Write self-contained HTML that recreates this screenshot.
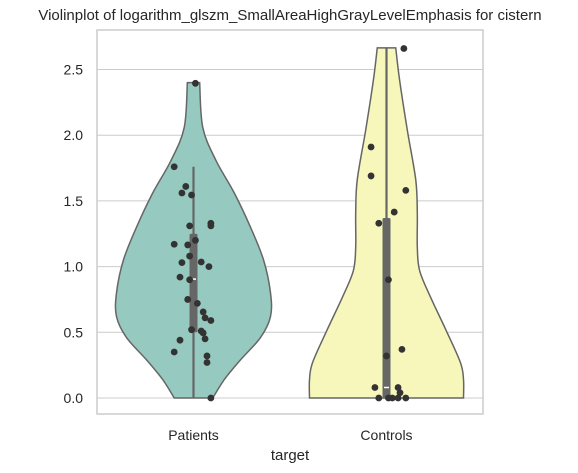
<!DOCTYPE html>
<html><head><meta charset="utf-8"><style>
body{margin:0;background:#fff;}
svg{display:block;font-family:"Liberation Sans",Arial,sans-serif;}
</style></head><body>
<svg id="chart" width="578" height="473" viewBox="0 0 578 473"></svg>
<script>
const categories = ["Patients", "Controls"];
const yTicks = [0.0, 0.5, 1.0, 1.5, 2.0, 2.5];
const yTickLabels = ["0.0", "0.5", "1.0", "1.5", "2.0", "2.5"];
// density profiles (value levels, relative half-width 0..1)
const patientsLevels = [2.40, 2.06, 1.81, 1.56, 1.30, 1.05, 0.80, 0.62, 0.46, 0.29, 0.14, 0.0];
const patientsDensity = [0.08, 0.12, 0.29, 0.53, 0.74, 0.91, 1.0, 1.0, 0.87, 0.61, 0.40, 0.25];
const controlsLevels = [2.665, 2.42, 2.04, 1.66, 1.41, 1.15, 0.97, 0.77, 0.52, 0.27, 0.14, 0.0];
const controlsDensity = [0.12, 0.17, 0.27, 0.38, 0.40, 0.40, 0.43, 0.57, 0.77, 0.96, 1.0, 1.0];
// box stats: whiskerLow, Q1, median, Q3, whiskerHigh
const patientsBox = [0.0, 0.50, 0.905, 1.25, 1.76];
const controlsBox = [0.0, 0.0, 0.08, 1.37, 2.665];
// observations and jitter (category units)
const patientsValues = [2.395,1.76,1.61,1.56,1.545,1.31,1.33,1.31,1.17,1.165,1.20,1.08,1.03,1.035,1.0,0.92,0.90,0.75,0.72,0.655,0.61,0.59,0.52,0.51,0.495,0.45,0.44,0.35,0.32,0.27,0.0];
const patientsJitter = [0.01,-0.10,-0.04,-0.06,-0.01,-0.02,0.09,0.09,-0.10,-0.03,0.01,-0.02,-0.06,0.04,0.08,-0.07,-0.02,-0.03,0.02,0.05,0.06,0.09,-0.01,0.04,0.05,0.06,-0.07,-0.10,0.07,0.07,0.09];
const controlsValues = [2.66,1.91,1.69,1.58,1.415,1.33,0.90,0.37,0.32,0.08,0.08,0.04,0.0,0.0,0.0,0.0,0.0];
const controlsJitter = [0.09,-0.08,-0.08,0.10,0.04,-0.04,0.01,0.08,0.0,-0.06,0.06,0.07,-0.04,0.01,0.03,0.06,0.10];

const NS="http://www.w3.org/2000/svg";
const svg=document.getElementById('chart');
const L=97,R=483,T=30,B=414;
const y0=398, pxPerUnit=131.4;
function yScale(v){return y0-v*pxPerUnit;}
const band=(R-L)/categories.length;
function xScale(i){return L+band*(i+0.5);}
const maxHalf=77;
function mk(tag,attrs){const e=document.createElementNS(NS,tag);for(const k in attrs)e.setAttribute(k,attrs[k]);svg.appendChild(e);return e;}

yTicks.forEach((t,i)=>{
  const g=mk('line',{x1:L,x2:R,y1:yScale(t),y2:yScale(t),stroke:'#cccccc','stroke-width':1});
  
  
  const tx=mk('text',{x:83,y:yScale(t)+5,'text-anchor':'end','font-size':14,fill:'#262626'});
  tx.textContent=yTickLabels[i];
  
  
});
const frame=mk('rect',{x:L,y:T,width:R-L,height:B-T,fill:'none',stroke:'#cccccc','stroke-width':1.5});



function smoothPath(pts){
  let d='M'+pts[0][0]+','+pts[0][1];
  for(let i=0;i<pts.length-1;i++){
    const p0=pts[Math.max(0,i-1)],p1=pts[i],p2=pts[i+1],p3=pts[Math.min(pts.length-1,i+2)];
    const c1=[p1[0]+(p2[0]-p0[0])/6,p1[1]+(p2[1]-p0[1])/6];
    const c2=[p2[0]-(p3[0]-p1[0])/6,p2[1]-(p3[1]-p1[1])/6];
    d+=' C'+c1[0]+','+c1[1]+' '+c2[0]+','+c2[1]+' '+p2[0]+','+p2[1];
  }
  return d;
}
const fills=['#96c9bf','#f7f6bb'];
const levelsArr=[patientsLevels,controlsLevels];
const densArr=[patientsDensity,controlsDensity];
const boxArr=[patientsBox,controlsBox];
const valsArr=[patientsValues,controlsValues];
const jitArr=[patientsJitter,controlsJitter];
const names=['patients','controls'];
for(let c=0;c<2;c++){
  const cx=xScale(c);
  const right=levelsArr[c].map((v,i)=>[cx+densArr[c][i]*maxHalf,yScale(v)]);
  const left=levelsArr[c].map((v,i)=>[cx-densArr[c][i]*maxHalf,yScale(v)]).reverse();
  const d=smoothPath(right)+' L'+left[0][0]+','+left[0][1]+' '+smoothPath(left).slice(1)+' Z';
  const p=mk('path',{d:d,fill:fills[c],stroke:'#666666','stroke-width':1.5});
  
  
  const b=boxArr[c];
  const w=mk('line',{x1:cx,x2:cx,y1:yScale(b[0]),y2:yScale(b[4]),stroke:'#666666','stroke-width':2.2});
  
  
  const bx=mk('rect',{x:cx-4,y:yScale(b[3]),width:8,height:yScale(b[1])-yScale(b[3]),fill:'#666666',rx:1.5});
  
  
  const md=mk('line',{x1:cx-2.5,x2:cx+2.5,y1:yScale(b[2]),y2:yScale(b[2]),stroke:'#ffffff','stroke-width':1.5});
  
  
  valsArr[c].forEach((v,i)=>{
    const pt=mk('circle',{cx:cx+jitArr[c][i]*band,cy:yScale(v),r:3.4,fill:'#333333'});
    
    
  });
  const lab=mk('text',{x:cx,y:440,'text-anchor':'middle','font-size':14,fill:'#262626'});
  lab.textContent=categories[c];
  
  
}
const xt=mk('text',{x:(L+R)/2,y:460,'text-anchor':'middle','font-size':15,fill:'#262626'});
xt.textContent='target';


const title=mk('text',{x:(L+R)/2,y:20,'text-anchor':'middle','font-size':15,fill:'#262626'});
title.textContent='Violinplot of logarithm_glszm_SmallAreaHighGrayLevelEmphasis for cistern';


</script>
</body></html>
